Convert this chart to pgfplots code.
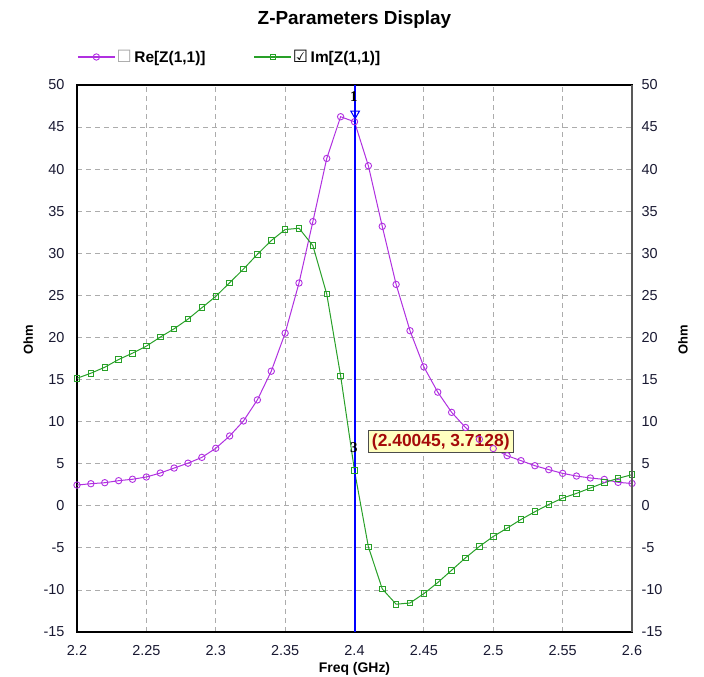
\documentclass[border=0pt]{standalone}
\usepackage{fontspec}
\setmainfont{Liberation Sans}
\newfontfamily\dejavu{DejaVu Sans}
\newfontfamily\lserif{Liberation Serif}
\usepackage{pgfplots}
\usepackage{pgfplotstable}
\pgfplotsset{compat=1.18}

\definecolor{rezc}{RGB}{176,48,224}
\definecolor{imzc}{RGB}{40,160,40}
\definecolor{boxfill}{RGB}{255,255,192}
\definecolor{boxtext}{RGB}{165,10,10}
\definecolor{tickc}{RGB}{25,25,50}

% Re[Z(1,1)] in Ohm
\pgfplotstableread{
f re
2.20 2.46
2.21 2.62
2.22 2.74
2.23 2.98
2.24 3.15
2.25 3.42
2.26 3.89
2.27 4.48
2.28 5.06
2.29 5.75
2.30 6.83
2.31 8.29
2.32 10.08
2.33 12.58
2.34 15.99
2.35 20.51
2.36 26.47
2.37 33.77
2.38 41.27
2.39 46.23
2.40 45.63
2.41 40.40
2.42 33.20
2.43 26.30
2.44 20.80
2.45 16.50
2.46 13.50
2.47 11.10
2.48 9.30
2.49 7.90
2.50 6.80
2.51 5.95
2.52 5.36
2.53 4.76
2.54 4.29
2.55 3.85
2.56 3.53
2.57 3.30
2.58 3.13
2.59 2.78
2.60 2.65
}\retab

% Im[Z(1,1)] in Ohm
\pgfplotstableread{
f im
2.20 15.15
2.21 15.75
2.22 16.46
2.23 17.38
2.24 18.13
2.25 18.97
2.26 20.04
2.27 21.03
2.28 22.18
2.29 23.53
2.30 24.88
2.31 26.50
2.32 28.13
2.33 29.88
2.34 31.51
2.35 32.82
2.36 32.98
2.37 30.91
2.38 25.15
2.39 15.44
2.40 4.17
2.41 -4.88
2.42 -9.88
2.43 -11.70
2.44 -11.55
2.45 -10.44
2.46 -9.13
2.47 -7.66
2.48 -6.19
2.49 -4.84
2.50 -3.65
2.51 -2.66
2.52 -1.63
2.53 -0.71
2.54 0.15
2.55 0.91
2.56 1.47
2.57 2.11
2.58 2.74
2.59 3.26
2.60 3.69
}\imtab

\pgfplotsset{
  zbase/.style={
    width=555bp, height=547bp, scale only axis,
    xmin=2.2, xmax=2.6, ymin=-15, ymax=50,
    ytick={-15,-10,...,50},
    major tick length=0pt,
    /pgf/number format/assume math mode=true,
    tick label style={font=\fontsize{14.5}{16}\selectfont, text=tickc},
  },
}

\begin{document}
\begin{tikzpicture}
\begin{axis}[zbase, name=ax,
    xtick={2.2,2.25,2.3,2.35,2.4,2.45,2.5,2.55,2.6},
    xticklabels={2.2,2.25,2.3,2.35,2.4,2.45,2.5,2.55,2.6},
    xticklabel style={yshift=-9.5bp},
    yticklabel style={xshift=-9bp},
    ytick pos=left, xtick pos=bottom,
    grid=major,
    grid style={gray!65, line width=0.8bp, dash pattern=on 5bp off 4bp},
    axis line style={black, line width=1.3bp},
    xlabel={Freq (GHz)},
    xlabel style={font=\bfseries\fontsize{14}{16}\selectfont, at={(axis description cs:0.5,0)}, anchor=center, yshift=-37bp},
    ylabel={Ohm},
    ylabel style={font=\bfseries\fontsize{13}{15}\selectfont, at={(axis description cs:-0.088,0.535)}, anchor=center, rotate=0},
    legend style={at={(axis description cs:0,1)}, anchor=west, yshift=28bp,
      draw=none, fill=none, inner xsep=0pt, inner ysep=0pt,
      font=\bfseries\fontsize{15.5}{17}\selectfont,
      nodes={inner xsep=1bp},
      /tikz/every even column/.append style={column sep=47bp}},
    legend columns=2,
    legend cell align=left,
    legend image code/.code={\draw[mark repeat=2,mark phase=2,#1,line width=1.4bp] plot coordinates {(0bp,0bp) (18.5bp,0bp) (37bp,0bp)};},
  ]
\addplot[rezc, line width=1bp, mark=o, mark size=3.2bp, mark options={line width=0.9bp}] table[x=f, y=re] {\retab};
\addlegendentry{{\dejavu\mdseries\fontsize{17}{15}\selectfont\color{gray!70}☐}\,Re[Z(1,1)]}
\addplot[imzc, line width=1bp, mark=square, mark size=2.8bp, mark options={line width=0.9bp}] table[x=f, y=im] {\imtab};
\addlegendentry{{\dejavu\mdseries\fontsize{17}{15}\selectfont ☑}\,Im[Z(1,1)]}
% marker line and markers
\addplot[blue, line width=1.3bp, forget plot] coordinates {(2.40045,-15) (2.40045,50)};
\addplot[blue, only marks, mark=triangle, mark size=5bp, mark options={rotate=180, line width=1bp, fill=cyan!20}, forget plot] coordinates {(2.40045,46.6)};
\node[font=\lserif\bfseries\fontsize{15}{15}\selectfont] at (axis cs:2.3995,48.6) {1};
\node[font=\lserif\bfseries\fontsize{15}{15}\selectfont] at (axis cs:2.3995,6.9) {3};
\node[fill=boxfill, draw=black!70, line width=1bp, text=boxtext, anchor=west,
      font=\bfseries\fontsize{17.5}{19}\selectfont, inner xsep=3.5bp, inner ysep=0pt,
      minimum height=22bp] at (axis cs:2.4097,7.6) {(2.40045, 3.7128)};
\end{axis}
\begin{axis}[zbase,
    axis x line=none,
    axis y line*=right,
    axis line style={black!65, line width=1.3bp},
    yticklabel style={xshift=6bp},
    ylabel={Ohm},
    ylabel style={font=\bfseries\fontsize{13}{15}\selectfont, at={(axis description cs:1.092,0.535)}, anchor=center, rotate=0},
  ]
\end{axis}
\node[font=\bfseries\fontsize{19}{22}\selectfont] at ([yshift=65bp]ax.north) {Z-Parameters Display};
\pgfresetboundingbox
\path[use as bounding box] ([shift={(-77bp,-45bp)}]ax.south west) rectangle ([shift={(72bp,85bp)}]ax.north east);
\end{tikzpicture}
\end{document}
